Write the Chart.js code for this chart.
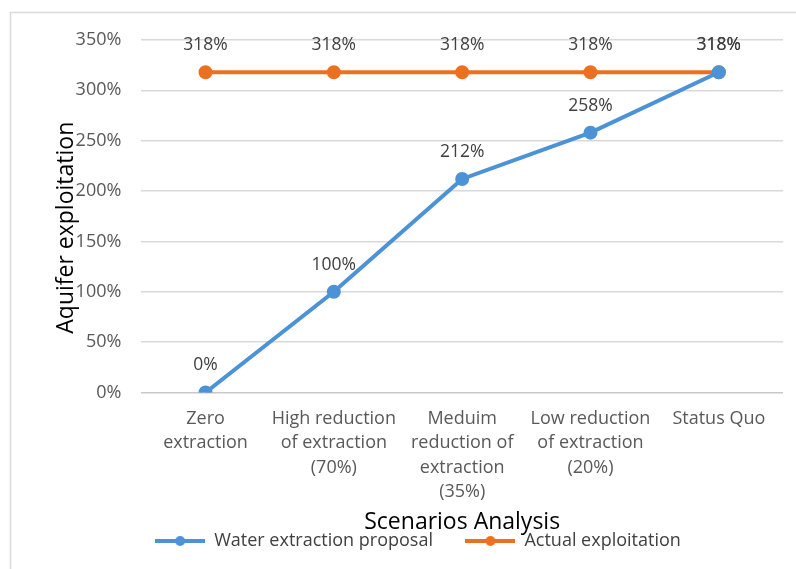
<!DOCTYPE html>
<html>
<head>
<meta charset="utf-8">
<script src="https://cdn.jsdelivr.net/npm/chart.js@4/dist/chart.umd.min.js"></script>
<style>
html,body{margin:0;padding:0;background:#fff;}
#wrap{position:absolute;left:0;top:0;width:796px;height:569px;}
</style>
</head>
<body>
<div id="wrap"><canvas id="c"></canvas></div>
<script>
const categories = [
  ["Zero", "extraction"],
  ["High reduction", "of extraction", "(70%)"],
  ["Meduim", "reduction of", "extraction", "(35%)"],
  ["Low reduction", "of extraction", "(20%)"],
  ["Status Quo"]
];
const waterExtractionProposal = [0, 100, 212, 258, 318];
const actualExploitation = [318, 318, 318, 318, 318];
const yTicks = [0, 50, 100, 150, 200, 250, 300, 350];

const BLUE = '#4C92D6';
const ORANGE = '#EC7020';
const FONT = "'Open Sans', 'Noto Sans', sans-serif";

function legendIcon(color) {
  const c = document.createElement('canvas');
  c.width = 50; c.height = 14;
  const g = c.getContext('2d');
  g.strokeStyle = color; g.lineWidth = 4; g.lineCap = 'butt';
  g.beginPath(); g.moveTo(0, 7); g.lineTo(50, 7); g.stroke();
  g.fillStyle = color;
  g.beginPath(); g.arc(25, 7, 5, 0, Math.PI * 2); g.fill();
  return c;
}

const framePlugin = {
  id: 'frame',
  beforeDraw(chart) {
    const ctx = chart.ctx;
    ctx.save();
    ctx.strokeStyle = '#d9d9d9';
    ctx.lineWidth = 1.5;
    ctx.strokeRect(10.5, 12.5, 800, 600);
    ctx.restore();
  }
};

const labelPlugin = {
  id: 'valueLabels',
  afterDatasetsDraw(chart) {
    const ctx = chart.ctx;
    ctx.save();
    ctx.font = "17.5px " + FONT;
    ctx.fillStyle = '#404040';
    ctx.textAlign = 'center';
    ctx.textBaseline = 'middle';
    chart.data.datasets.forEach((ds, i) => {
      const meta = chart.getDatasetMeta(i);
      meta.data.forEach((pt, j) => {
        ctx.fillText(ds.data[j] + '%', pt.x, pt.y - 27);
      });
    });
    ctx.restore();
  }
};

new Chart(document.getElementById('c'), {
  type: 'line',
  data: {
    labels: categories,
    datasets: [
      {
        label: 'Water extraction proposal',
        data: waterExtractionProposal,
        borderColor: BLUE,
        backgroundColor: BLUE,
        borderWidth: 4,
        pointRadius: 5,
        pointHoverRadius: 5,
        pointStyle: 'circle',
        tension: 0
      },
      {
        label: 'Actual exploitation',
        data: actualExploitation,
        borderColor: ORANGE,
        backgroundColor: ORANGE,
        borderWidth: 4,
        pointRadius: 5,
        pointHoverRadius: 5,
        pointStyle: 'circle',
        tension: 0
      }
    ]
  },
  options: {
    responsive: true,
    maintainAspectRatio: false,
    animation: false,
    layout: { padding: { left: 53, right: 13, top: 40, bottom: 9 } },
    plugins: {
      legend: {
        position: 'bottom',
        labels: {
          usePointStyle: true,
          pointStyleWidth: 50,
          boxHeight: 14,
          padding: 10,
          color: '#404040',
          font: { family: FONT, size: 18 },
          generateLabels(chart) {
            const n = chart.data.datasets.length;
            return chart.data.datasets.map((ds, i) => ({
              text: ds.label + (i < n - 1 ? '\u2003\u2005' : ''),
              pointStyle: legendIcon(ds.borderColor),
              fillStyle: ds.borderColor,
              strokeStyle: ds.borderColor,
              lineWidth: 0,
              hidden: false,
              datasetIndex: i,
              fontColor: '#404040'
            }));
          }
        }
      },
      tooltip: { enabled: false },
      title: { display: false }
    },
    scales: {
      x: {
        grid: { display: false, drawTicks: false },
        border: { display: false },
        offset: true,
        ticks: {
          color: '#595959',
          font: { family: FONT, size: 18, lineHeight: 1.36 },
          padding: 14,
          maxRotation: 0,
          autoSkip: false
        },
        title: {
          display: true,
          text: 'Scenarios Analysis',
          color: '#000',
          font: { family: FONT, size: 23 },
          padding: { top: -10, bottom: -14 }
        }
      },
      y: {
        min: 0,
        max: 350,
        afterBuildTicks(scale) { scale.ticks = yTicks.map(v => ({ value: v })); },
        grid: {
          color: (c) => c.tick && c.tick.value === 0 ? '#c8c8c8' : '#d9d9d9',
          lineWidth: 1.5,
          drawTicks: false
        },
        border: { display: false },
        ticks: {
          color: '#595959',
          font: { family: FONT, size: 18 },
          padding: 20,
          callback: (v) => v + '%'
        },
        title: {
          display: true,
          text: 'Aquifer exploitation\u2003',
          color: '#000',
          font: { family: FONT, size: 23 },
          padding: { top: 0, bottom: -25 }
        }
      }
    }
  },
  plugins: [framePlugin, labelPlugin]
});
</script>
</body>
</html>
